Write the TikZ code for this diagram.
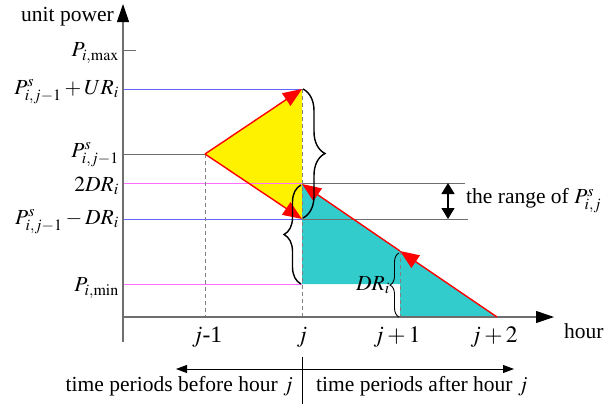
\documentclass[tikz,border=0pt]{standalone}
\usepackage{mathptmx}
\usepackage{fontspec}
\setmainfont{Liberation Serif}
\usetikzlibrary{arrows.meta,decorations.pathreplacing}
\definecolor{cyanfill}{RGB}{51,204,204}
\definecolor{guideblue}{RGB}{100,100,255}
\definecolor{guidemag}{RGB}{255,110,255}
\definecolor{axisgray}{RGB}{110,110,110}
\tikzset{
  lbl/.style={anchor=east, inner sep=1pt},
  ticklbl/.style={font=\fontsize{23.5}{27}\selectfont, inner sep=0pt},
  axisline/.style={draw=axisgray, line width=1.1pt},
  guide/.style={line width=0.8pt},
  dashguide/.style={draw=gray, dashed, dash pattern=on 4pt off 3pt, line width=0.7pt},
  redarrow/.style={draw=red, line width=1.4pt, -{Triangle[length=19pt,width=15pt]}},
  bigbrace/.style={decorate, decoration={brace, amplitude=#1}, draw=black, line width=1.4pt},
}
\begin{document}
\begin{tikzpicture}[x=1pt,y=-1pt,font=\fontsize{21.5}{25}\selectfont]
\useasboundingbox (0,0) rectangle (610,407);
% key coordinates
\coordinate (O) at (123,317);
\coordinate (Ytop) at (123,4);
\coordinate (Ybot) at (123,342);
\coordinate (Xend) at (554,317);
\coordinate (A) at (205,154);
\coordinate (B) at (302,89);
\coordinate (C) at (302,219);
\coordinate (D) at (302,184);
\coordinate (E) at (400,251);
\coordinate (F) at (497,317);
% fills
\fill[yellow] (A) -- (B) -- (C) -- cycle;
\fill[cyanfill] (D) -- (F) -- (400,317) -- (400,284) -- (302,284) -- cycle;
% guide lines
\draw[axisgray, guide] (123,50) -- (136,50);
\draw[guideblue, guide] (123,89) -- (B);
\draw[axisgray, guide] (123,154) -- (A);
\draw[guidemag, guide] (123,183) -- (302,183);
\draw[axisgray, guide] (302,183) -- (465,183);
\draw[guideblue, guide] (123,219) -- (C);
\draw[axisgray, guide] (C) -- (468,219);
\draw[guidemag, guide] (123,284) -- (302,284);
% dashed verticals
\draw[dashguide] (A) -- (205,317);
\draw[dashguide] (B) -- (302,317);
\draw[dashguide] (E) -- (400,317);
% axes
\draw[axisline, -{Triangle[length=18pt,width=12pt,color=black]}] (Ybot) -- (Ytop);
\draw[axisline, -{Triangle[length=18pt,width=12pt,color=black]}] (O) -- (Xend);
% red arrows
\draw[redarrow] (A) -- (B);
\draw[redarrow] (A) -- (C);
\draw[redarrow] (F) -- (E);
\draw[redarrow] (E) -- (D);
% braces
\draw[bigbrace=22pt] (303,89) -- (303,218);
\draw[bigbrace=17pt] (301,284) -- (301,185);
\draw[decorate, decoration={brace, amplitude=9pt}, line width=0.9pt] (399,317) -- (399,253);
% range arrow
\draw[line width=1.4pt, {Triangle[length=11pt,width=13pt]}-{Triangle[length=11pt,width=13pt]}] (448,183) -- (448,219);
\node[anchor=west, inner sep=0pt] (range) at (466,201) {the range of $P^{s}_{i,j}$};
\node[anchor=east, inner sep=0pt] (dr) at (390,285) {$DR_i$};
% axis labels
\node[anchor=east, inner sep=0pt] (up) at (114,17) {unit power};
\node[lbl] (pmax) at (120,53) {$P_{i,\max}$};
\node[lbl] (pur) at (120,92) {$P^{s}_{i,j-1}+UR_i$};
\node[lbl] (ps) at (120,155) {$P^{s}_{i,j-1}$};
\node[lbl] (tdr) at (120,186) {$2DR_i$};
\node[lbl] (pdr) at (120,222) {$P^{s}_{i,j-1}-DR_i$};
\node[lbl] (pmin) at (120,288) {$P_{i,\min}$};
\node[ticklbl] (t1) at (207,337) {$j$-1};
\node[ticklbl] (t2) at (302,337) {$j$};
\node[ticklbl] (t3) at (397,337) {$j+1$};
\node[ticklbl] (t4) at (494,337) {$j+2$};
\node[anchor=west, inner sep=0pt] (hour) at (564,331) {hour};
% bottom
\coordinate (M1) at (302,357);
\coordinate (M2) at (302,404);
\coordinate (Mc) at (302,369);
\draw[line width=1pt] (M1) -- (M2);
\draw[line width=0.8pt, -{Triangle[length=11pt,width=8pt]}] (Mc) -- (176,369);
\draw[line width=0.8pt, -{Triangle[length=11pt,width=8pt]}] (Mc) -- (514,369);
\node[anchor=east, inner sep=0pt] (before) at (293,386) {time periods before hour $j$};
\node[anchor=west, inner sep=0pt] (after) at (316,386) {time periods after hour $j$};
\end{tikzpicture}
\end{document}
